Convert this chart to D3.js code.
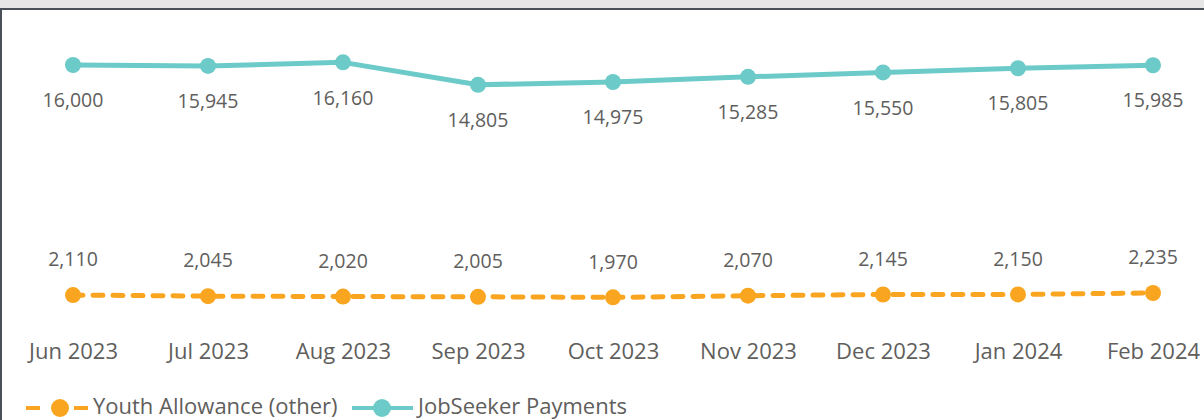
<!DOCTYPE html>
<html>
<head>
<meta charset="utf-8">
<script src="https://cdn.jsdelivr.net/npm/d3@7"></script>
<style>
  html, body { margin: 0; padding: 0; background: #ffffff; }
  svg { display: block; }
</style>
</head>
<body>
<svg id="chart" width="1204" height="420"></svg>
<script>
// Monthly recipient counts by payment type
const months = ["Jun 2023", "Jul 2023", "Aug 2023", "Sep 2023", "Oct 2023", "Nov 2023", "Dec 2023", "Jan 2024", "Feb 2024"];
const jobSeeker = [16000, 15945, 16160, 14805, 14975, 15285, 15550, 15805, 15985];
const youthAllowance = [2110, 2045, 2020, 2005, 1970, 2070, 2145, 2150, 2235];
const seriesNames = ["Youth Allowance (other)", "JobSeeker Payments"];

const FONT = "'Open Sans', 'Noto Sans', sans-serif";
const TEXT = "#605e5c";
const TEAL = "#6ccbc8";
const ORANGE = "#f9a51f";

const svg = d3.select("#chart");

// Frame: light strip on top, dark border along top and left
svg.append("rect").attr("x", 0).attr("y", 0).attr("width", 1204).attr("height", 8).attr("fill", "#e6e6e6");
svg.append("rect").attr("x", 0).attr("y", 8).attr("width", 1204).attr("height", 2).attr("fill", "#4b5058");
svg.append("rect").attr("x", 0).attr("y", 8).attr("width", 2).attr("height", 412).attr("fill", "#4b5058");

const x = d3.scalePoint().domain(months).range([73, 1153]);
const y = d3.scaleLinear().domain([0, 16000]).range([330, 65]);

// Category axis (labels only)
const xAxis = d3.axisBottom(x).tickSize(0).tickPadding(0);
const gx = svg.append("g").attr("transform", "translate(0,353)").call(xAxis);
gx.select(".domain").remove();
gx.selectAll("text")
  .attr("font-family", FONT).attr("font-size", 22).attr("fill", TEXT)
  .attr("y", 0).attr("dy", null).attr("dominant-baseline", "middle");

const line = d3.line().x((d, i) => x(months[i])).y(d => y(d));

// JobSeeker Payments: solid line
svg.append("path").datum(jobSeeker)
  .attr("d", line).attr("fill", "none")
  .attr("stroke", TEAL).attr("stroke-width", 5).attr("stroke-linejoin", "round");
svg.append("g").selectAll("circle").data(jobSeeker).join("circle")
  .attr("cx", (d, i) => x(months[i])).attr("cy", d => y(d)).attr("r", 8).attr("fill", TEAL);
svg.append("g").selectAll("text").data(jobSeeker).join("text")
  .attr("x", (d, i) => x(months[i])).attr("y", d => y(d) + 37)
  .attr("text-anchor", "middle").attr("dominant-baseline", "middle")
  .attr("font-family", FONT).attr("font-size", 19.5).attr("fill", TEXT)
  .text(d => d3.format(",")(d));

// Youth Allowance (other): dashed line
svg.append("path").datum(youthAllowance)
  .attr("d", line).attr("fill", "none")
  .attr("stroke", ORANGE).attr("stroke-width", 5).attr("stroke-linecap", "round")
  .attr("stroke-dasharray", "10 10");
svg.append("g").selectAll("circle").data(youthAllowance).join("circle")
  .attr("cx", (d, i) => x(months[i])).attr("cy", d => y(d)).attr("r", 8).attr("fill", ORANGE);
svg.append("g").selectAll("text").data(youthAllowance).join("text")
  .attr("x", (d, i) => x(months[i])).attr("y", d => y(d) - 34)
  .attr("text-anchor", "middle").attr("dominant-baseline", "middle")
  .attr("font-family", FONT).attr("font-size", 19.5).attr("fill", TEXT)
  .text(d => d3.format(",")(d));

// Legend
const ly = 408;
const lg = svg.append("g");
lg.append("line").attr("x1", 26).attr("x2", 40).attr("y1", ly).attr("y2", ly).attr("stroke", ORANGE).attr("stroke-width", 4);
lg.append("line").attr("x1", 74).attr("x2", 88).attr("y1", ly).attr("y2", ly).attr("stroke", ORANGE).attr("stroke-width", 4);
lg.append("circle").attr("cx", 60).attr("cy", ly).attr("r", 9).attr("fill", ORANGE);
lg.append("text").attr("x", 93).attr("y", ly).attr("dominant-baseline", "middle")
  .attr("font-family", FONT).attr("font-size", 22).attr("fill", TEXT).text(seriesNames[0]);
lg.append("line").attr("x1", 352).attr("x2", 413).attr("y1", ly).attr("y2", ly).attr("stroke", TEAL).attr("stroke-width", 4);
lg.append("circle").attr("cx", 382).attr("cy", ly).attr("r", 9).attr("fill", TEAL);
lg.append("text").attr("x", 418).attr("y", ly).attr("dominant-baseline", "middle")
  .attr("font-family", FONT).attr("font-size", 22).attr("fill", TEXT).text(seriesNames[1]);
</script>
</body>
</html>
